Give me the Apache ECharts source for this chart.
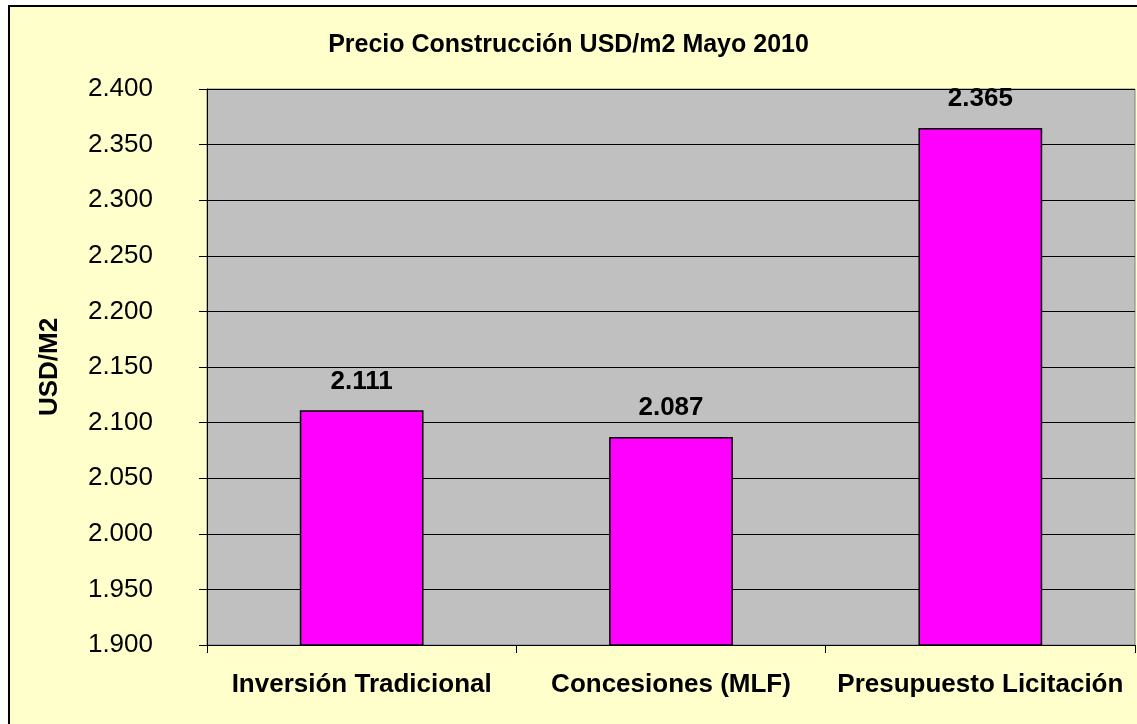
<!DOCTYPE html>
<html>
<head>
<meta charset="utf-8">
<script src="https://cdn.jsdelivr.net/npm/echarts@6/dist/echarts.min.js"></script>
<style>
  html, body { margin: 0; padding: 0; background: #fff; }
  #chart { width: 1137px; height: 724px; }
</style>
</head>
<body>
<div id="chart"></div>
<script>
// Precio construcción en USD/m2 (mayo 2010)
var categories = ['Inversión Tradicional', 'Concesiones (MLF)', 'Presupuesto Licitación'];
var precios = [2111, 2087, 2365];
var yMin = 1900, yMax = 2400, yStep = 50;

// formato con punto como separador de miles: 2365 -> "2.365"
function fmtMiles(v) {
    return String(Math.round(v)).replace(/\B(?=(\d{3})+(?!\d))/g, '.');
}

var dom = document.getElementById('chart');
var myChart = echarts.init(dom);
var option = {
    backgroundColor: '#ffffff',
    animation: false,
    textStyle: { fontFamily: '"Liberation Sans", Arial, sans-serif' },
    graphic: [{
        type: 'rect',
        z: -10,
        shape: { x: 9, y: 6, width: 1140, height: 730 },
        style: { fill: '#FFFFCC', stroke: '#000', lineWidth: 2 }
    }],
    title: {
        text: 'Precio Construcción USD/m2 Mayo 2010',
        left: 'center',
        top: 28,
        textStyle: { fontSize: 25, fontWeight: 'bold', color: '#000' }
    },
    grid: {
        left: 207,
        top: 89,
        right: 2,
        bottom: 79,
        show: true,
        backgroundColor: '#C0C0C0',
        borderColor: '#808080',
        borderWidth: 1
    },
    xAxis: {
        type: 'category',
        data: categories,
        axisLine: { lineStyle: { color: '#000', width: 1 } },
        axisTick: { show: true, length: 8, lineStyle: { color: '#000' } },
        axisLabel: {
            interval: 0,
            hideOverlap: false,
            margin: 27,
            fontSize: 26,
            fontWeight: 'bold',
            color: '#000'
        }
    },
    yAxis: {
        type: 'value',
        min: yMin,
        max: yMax,
        interval: yStep,
        name: 'USD/M2',
        nameLocation: 'middle',
        nameGap: 144,
        nameTextStyle: { fontSize: 26, fontWeight: 'bold', color: '#000' },
        axisLine: { show: true, lineStyle: { color: '#000', width: 1 } },
        axisTick: { show: true, length: 8, lineStyle: { color: '#000' } },
        axisLabel: { margin: 54, fontSize: 26, color: '#000', formatter: fmtMiles },
        splitLine: { show: true, lineStyle: { color: '#000', width: 1 } }
    },
    series: [{
        type: 'bar',
        data: precios,
        barWidth: '40%',
        itemStyle: { color: '#FF00FF', borderColor: '#000', borderWidth: 1.5 },
        label: {
            show: true,
            position: 'top',
            distance: 16,
            fontSize: 26,
            fontWeight: 'bold',
            color: '#000',
            formatter: function (p) { return fmtMiles(p.value); }
        }
    }]
};
myChart.setOption(option);
</script>
</body>
</html>
